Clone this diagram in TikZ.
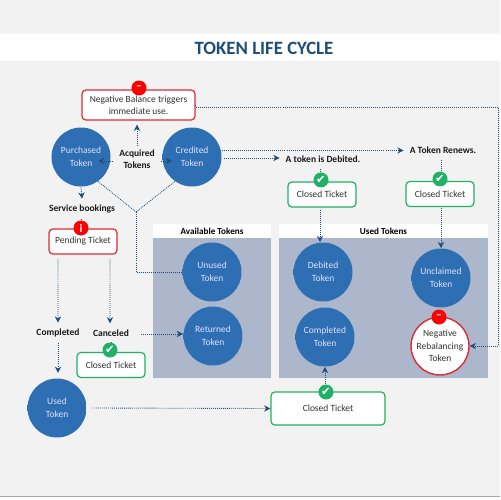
\documentclass[tikz,border=0pt]{standalone}
\usepackage{xcolor}
\usepackage{fontspec}
\setmainfont{Carlito}
\newfontfamily\symfont{DejaVu Sans}
\usetikzlibrary{arrows.meta}
\definecolor{pagegrey}{HTML}{F2F2F2}
\definecolor{navy}{HTML}{1F4E79}
\definecolor{tokenblue}{HTML}{2E6FB4}
\definecolor{tokenrim}{HTML}{6A9FD6}
\definecolor{panelblue}{HTML}{ADB7CB}
\definecolor{alertred}{HTML}{DD2C34}
\definecolor{okgreen}{HTML}{22B066}
\pgfdeclareradialshading{tokenball}{\pgfpoint{0bp}{3bp}}{color(0bp)=(tokenblue); color(46bp)=(tokenblue); color(51bp)=(tokenrim); color(54bp)=(tokenrim)}
\tikzset{
  tokenbase/.style={circle, minimum size=1.18cm, inner sep=0pt, align=center,
                    font=\fontsize{5.4}{7.2}\selectfont},
  token/.style={tokenbase, shading=tokenball, text=white!88!blue},
  ticket/.style={draw=okgreen, line width=0.7pt, rounded corners=2.2pt, fill=white, align=center,
                 inner sep=0pt, font=\fontsize{5.4}{6.6}\selectfont, text=black!80},
  alertbox/.style={ticket, draw=alertred},
  badge/.style={circle, minimum size=0.3cm, inner sep=0pt, text=white, font=\fontsize{6.5}{6.5}\selectfont\bfseries},
  flowlabel/.style={align=center, font=\fontsize{5.4}{6.9}\selectfont\bfseries, text=black!90},
  panelhead/.style={fill=white, inner sep=0pt, font=\fontsize{5.2}{6}\selectfont\bfseries},
  panelbody/.style={fill=panelblue, inner sep=0pt},
  flowplain/.style={navy, line width=0.5pt, dash pattern=on 0.5pt off 0.65pt},
  flow/.style={flowplain, -{Stealth[length=3.6pt,width=3.6pt,fill=navy]}}
}
\begin{document}
\begin{tikzpicture}[x=0.02cm, y=-0.02cm]
  \useasboundingbox (0,0) rectangle (500,500);
  \fill[pagegrey] (0,0) rectangle (500,496);
  \fill[black!35] (0,495.5) rectangle (500,497);
  \fill[white] (0,497) rectangle (500,500);
  % title band
  \node[fill=white, minimum width=10cm, minimum height=0.54cm, inner sep=0pt] (band) at (250,47.5) {};
  \node[text=navy, font=\fontsize{10.7}{11}\selectfont\bfseries] (title) at (264,48) {TOKEN LIFE CYCLE};

  % panels
  \node[panelhead, minimum width=2.36cm, minimum height=0.28cm] (availhead) at (212,231) {Available Tokens};
  \node[panelbody, minimum width=2.36cm, minimum height=2.8cm] (availbody) at (212,308) {};
  \node[panelhead, minimum width=4.18cm, minimum height=0.28cm] (usedhead) at (383.5,231) {Used Tokens};
  \node[panelbody, minimum width=4.18cm, minimum height=2.8cm] (usedbody) at (383.5,308) {};

  % tokens
  \node[token] (purchased) at (81,157) {Purchased\\Token};
  \node[token] (credited) at (192,157) {Credited\\Token};
  \node[token] (unused) at (212,272) {Unused\\Token};
  \node[token] (returned) at (213,336) {Returned\\Token};
  \node[token] (usedtok) at (57,408) {Used\\Token};
  \node[token] (debited) at (323,272) {Debited\\Token};
  \node[token] (completedtok) at (325,337) {Completed\\Token};
  \node[token] (unclaimed) at (441,278) {Unclaimed\\Token};
  \node[tokenbase, draw=alertred, line width=0.8pt, fill=white, text=black!80, minimum size=1.16cm] (negreb) at (440,346) {Negative\\Rebalancing\\Token};

  % tickets
  \node[alertbox, minimum width=2.26cm, minimum height=0.6cm] (negbal) at (138.5,105) {Negative Balance triggers\\immediate use.};
  \node[alertbox, minimum width=1.36cm, minimum height=0.5cm] (pending) at (83,241.5) {Pending Ticket};
  \node[ticket, minimum width=1.36cm, minimum height=0.5cm] (closedcancel) at (111,365) {Closed Ticket};
  \node[ticket, minimum width=1.36cm, minimum height=0.5cm] (closeddebit) at (322,194.5) {Closed Ticket};
  \node[ticket, minimum width=1.36cm, minimum height=0.5cm] (closedrenew) at (440,194) {Closed Ticket};
  \node[ticket, minimum width=2.28cm, minimum height=0.66cm] (closedused) at (328,408.5) {Closed Ticket};

  % labels
  \node[flowlabel] (acquired) at (137,159) {Acquired\\Tokens};
  \node[flowlabel] (bookings) at (82,209) {Service bookings};
  \node[flowlabel] (completed) at (58,333) {Completed};
  \node[flowlabel] (canceled) at (111,333) {Canceled};
  \node[flowlabel] (isdebited) at (323,159) {A token is Debited.};
  \node[flowlabel] (renews) at (443,150.5) {A Token Renews.};

  % free ends and bends
  \coordinate (purchasedin) at (98,161);
  \coordinate (creditedin) at (172,161);
  \coordinate (join) at (136,212);
  \coordinate (joinlow) at (136,272);
  \coordinate (farright) at (498,107);
  \coordinate (farlow) at (498,346);
  \coordinate (returnedin) at (183,334);

  % connectors
  \draw[flow] (acquired.north) ++(0,3) -- ([yshift=-0.08cm]negbal.south -| acquired.north);
  \draw[flow] (acquired.west |- purchasedin) -- (purchasedin);
  \draw[flow] (acquired.east |- creditedin) -- (creditedin);
  \draw[flowplain] (purchased.-55) -- (join);
  \draw[flowplain] (credited.235) -- (join);
  \draw[flowplain] (join) -- (joinlow) -- (unused.west);
  \draw[flow] (purchased.south) -- (bookings.north);
  \draw[flowplain] (bookings.south -| pending.north) ++(-2,0) -- ++(0,8);
  \draw[flow] ([xshift=-0.5cm,yshift=-0.08cm]pending.south) -- (completed.north -| 58,0);
  \draw[flow] ([xshift=0.54cm,yshift=-0.08cm]pending.south) -- (canceled.north -| 110,0);
  \draw[flow, shorten >=3pt] (completed.south) -- (usedtok.north -| completed.south);
  \draw[flowplain] (canceled.south) -- ([yshift=0.2cm]closedcancel.north -| canceled.south);
  \draw[flow] (canceled.east |- returnedin) ++(6,0) -- (returnedin);
  \draw[flow] ([xshift=0.1cm]usedtok.east) -- (closedused.west);
  \draw[flow] ([yshift=-0.14cm]closedused.north -| completedtok.south) -- (completedtok.south);
  \draw[flow] (credited.east |- isdebited) ++(2,-1) -- (isdebited.west |- 0,158);
  \draw[flow] (credited.east |- renews) -- (renews.west);
  \draw[flowplain] (isdebited.south -| 320,0) -- ([yshift=0.2cm]closeddebit.north -| 320,0);
  \draw[flow] ([yshift=-0.04cm]closeddebit.south -| 320,0) -- (debited.north -| 320,0);
  \draw[flowplain] (renews.south -| 441,0) -- ([yshift=0.2cm]closedrenew.north -| 441,0);
  \draw[flow] ([yshift=-0.02cm]closedrenew.south -| 441,0) -- (unclaimed.north);
  \draw[flow] (negbal.east) -- (farright -| negbal.east) -- (farright) -- (farlow) -- (negreb.east);

  % badges
  \node[badge, fill=red] (negbalbadge) at (139,88) {--};
  \node[badge, fill=red] (pendingbadge) at (81,228) {i};
  \node[badge, fill=okgreen] (cancelbadge) at (110,350) {\symfont ✔};
  \node[badge, fill=okgreen] (debitbadge) at (321,180) {\symfont ✔};
  \node[badge, fill=okgreen] (renewbadge) at (440,179) {\symfont ✔};
  \node[badge, fill=okgreen] (usedbadge) at (326,392) {\symfont ✔};
  \node[badge, fill=red] (negrebbadge) at (439,317) {--};
\end{tikzpicture}
\end{document}
